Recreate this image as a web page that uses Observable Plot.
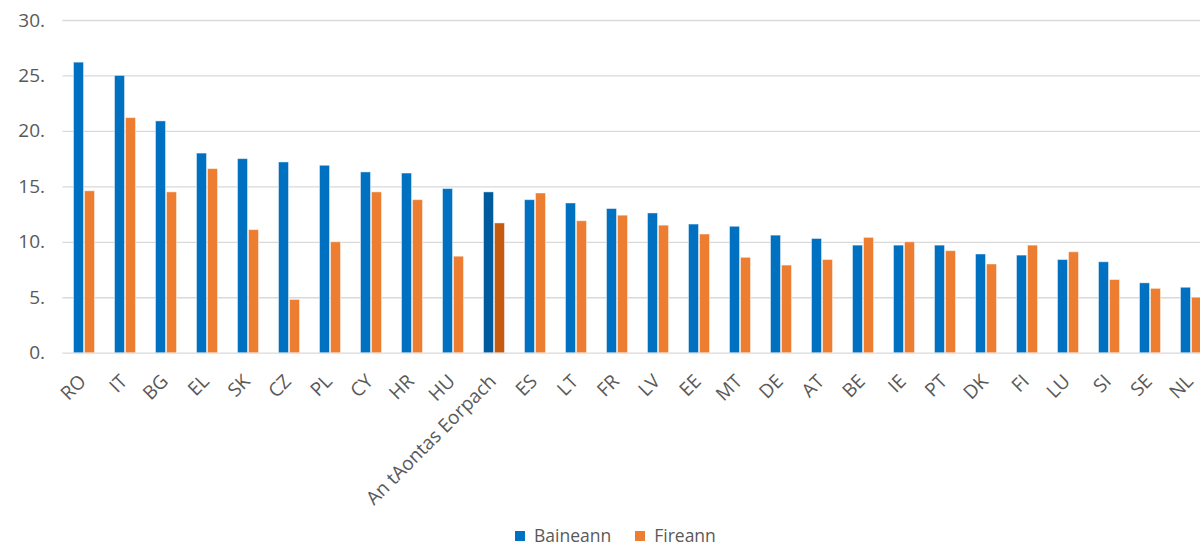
<!DOCTYPE html>
<html><head><meta charset="utf-8">
<script src="https://cdn.jsdelivr.net/npm/d3@7"></script>
<script src="https://cdn.jsdelivr.net/npm/@observablehq/plot@0.6"></script>
<style>
body{margin:0;background:#fff;overflow:hidden;width:1200px;height:547px;position:relative;font-family:"Open Sans",sans-serif;}
#chart{position:absolute;left:0;top:0;}
#legend{position:absolute;left:515px;top:524px;display:flex;align-items:center;font-size:17.5px;line-height:23px;color:#595959;}
#legend .item{display:flex;align-items:center;margin-right:24px;}
#legend .sw{width:10px;height:10px;display:inline-block;margin-right:9px;}
</style></head><body>
<div id="chart"></div>
<div id="legend"></div>
<script>
const countries = ["RO","IT","BG","EL","SK","CZ","PL","CY","HR","HU","An tAontas Eorpach","ES","LT","FR","LV","EE","MT","DE","AT","BE","IE","PT","DK","FI","LU","SI","SE","NL"];
const baineann = [26.2,25.0,20.9,18.0,17.5,17.2,16.9,16.3,16.2,14.8,14.5,13.8,13.5,13.0,12.6,11.6,11.4,10.6,10.3,9.7,9.7,9.7,8.9,8.8,8.4,8.2,6.3,5.9];
const fireann  = [14.6,21.2,14.5,16.6,11.1,4.8,10.0,14.5,13.8,8.7,11.7,14.4,11.9,12.4,11.5,10.7,8.6,7.9,8.4,10.4,10.0,9.2,8.0,9.7,9.1,6.6,5.8,5.0];
const seriesNames = ["Baineann","Fireann"];
const yTicks = [0,5,10,15,20,25,30];
const highlight = "An tAontas Eorpach";
const colors = {Baineann:"#0070C0", Fireann:"#ED7D31"};
const highlightColors = {Baineann:"#005A9E", Fireann:"#C55A11"};

const bRows = countries.map((c,i)=>({country:c, series:"Baineann", value:baineann[i]}));
const fRows = countries.map((c,i)=>({country:c, series:"Fireann", value:fireann[i]}));
const fillOf = d => d.country === highlight ? highlightColors[d.series] : colors[d.series];

const chart = Plot.plot({
  width: 1211, height: 527,
  marginLeft: 62.5, marginRight: 0, marginTop: 20, marginBottom: 174.3,
  style: {fontFamily: "'Open Sans', sans-serif", fontSize: "19px", color: "#595959", maxWidth: "none", overflow: "visible", background: "white"},
  x: {domain: countries, padding: 0, label: null},
  y: {domain: [0, 30], label: null},
  marks: [
    Plot.ruleY(yTicks, {stroke: "#d9d9d9", strokeWidth: 1.3}),
    Plot.barY(bRows, {x: "country", y: "value", fill: fillOf, insetLeft: 10.5, insetRight: 20.5, stroke: "white", strokeOpacity: 0.45, strokeWidth: 1}),
    Plot.barY(fRows, {x: "country", y: "value", fill: fillOf, insetLeft: 21.5, insetRight: 9.5, stroke: "white", strokeOpacity: 0.45, strokeWidth: 1}),
    Plot.axisY(yTicks, {tickFormat: d => d + ".", tickSize: 0, tickPadding: 18, label: null, fontSize: 19}),
    Plot.axisX({tickRotate: -45, tickSize: 0, tickPadding: 25, dx: -1, label: null, fontSize: 19})
  ]
});
document.getElementById("chart").appendChild(chart);

const legend = document.getElementById("legend");
seriesNames.forEach(s => {
  const item = document.createElement("span");
  item.className = "item";
  const sw = document.createElement("span");
  sw.className = "sw";
  sw.style.background = colors[s];
  item.appendChild(sw);
  item.appendChild(document.createTextNode(s));
  legend.appendChild(item);
});
</script>
</body></html>
